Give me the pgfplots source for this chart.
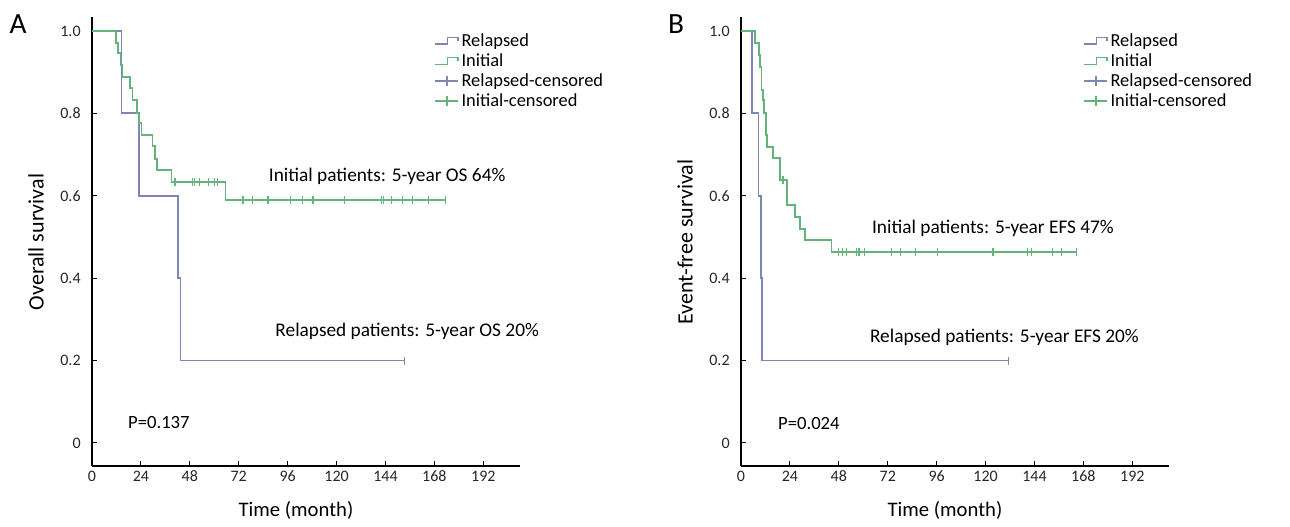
\documentclass[border=0pt]{standalone}
\usepackage{pgfplots}
\pgfplotsset{compat=1.18}
\usepackage{fontspec}
\setmainfont{Carlito}
\definecolor{relcol}{RGB}{125,135,178}
\definecolor{inicol}{RGB}{98,180,122}
\tikzset{ann/.style={anchor=west, font=\fontsize{14.5}{17}\selectfont, inner sep=0pt}}
\pgfplotsset{
  km/.style={
    scale only axis, width=321pt, height=336.75pt,
    xmin=0, xmax=210, ymin=-0.056, ymax=1.034, clip=false,
    axis x line*=bottom, axis y line*=left,
    axis line style={-, line width=0.9pt, black},
    tick style={line width=0.8pt, black},
    tick align=inside, major tick length=4pt,
    xtick={0,24,48,72,96,120,144,168,192},
    ytick={0,0.2,0.4,0.6,0.8,1.0},
    yticklabels={0,0.2,0.4,0.6,0.8,1.0},
    /pgf/number format/assume math mode=true,
    ticklabel style={font=\fontsize{12}{14}\selectfont, text=black!85},
    yticklabel style={xshift=-5pt},
    legend style={at={(0.80,0.97)}, anchor=north west, draw=none, fill=none,
      font=\fontsize{13.8}{16.5}\selectfont, row sep=0pt, inner sep=0pt},
    legend cell align=left,
  },
}
\begin{document}
\begin{tikzpicture}[x=0.75pt,y=0.75pt]
\useasboundingbox (0,0) rectangle (1290,527);
% ---------------- Panel A
\begin{axis}[km, at={(69pt,45.75pt)}, anchor=south west]
\addplot[const plot, relcol, line width=1.35pt, forget plot] coordinates {
(0,1)(14.5,0.8)(23.2,0.6)(42.3,0.4)(43.4,0.2)(153.3,0.2)};
\addplot[only marks, mark=|, relcol, mark size=3pt, mark options={line width=0.9pt}, forget plot] coordinates {(153.3,0.2)};
\addplot[const plot, inicol, line width=1.35pt, forget plot] coordinates {
(0,1)(11.8,0.970)(12.6,0.946)(14.0,0.917)(15.0,0.889)(18.6,0.861)(19.9,0.833)
(21.9,0.800)(23.2,0.777)(24.3,0.748)(29.7,0.720)(30.9,0.690)(32.0,0.663)
(39.0,0.633)(65.5,0.590)(173.4,0.590)};
\addplot[only marks, mark=|, inicol, mark size=3pt, mark options={line width=0.9pt}, forget plot] coordinates {
(40.7,0.633)(49.3,0.633)(50.4,0.633)(52.9,0.633)(57.0,0.633)(60.2,0.633)(61.4,0.633)
(74.1,0.590)(78.7,0.590)(86.4,0.590)(97.3,0.590)(103.2,0.590)(108.4,0.590)(124.0,0.590)
(141.9,0.590)(143.0,0.590)(146.8,0.590)(152.5,0.590)(157.4,0.590)(165.2,0.590)(173.4,0.590)};
\addlegendimage{legend image code/.code={\draw[relcol, line width=1.1pt] (0cm,-0.09cm) -- (0.32cm,-0.09cm) -- (0.32cm,0.09cm) -- (0.6cm,0.09cm) -- (0.6cm,0cm);}}
\addlegendentry{Relapsed}
\addlegendimage{legend image code/.code={\draw[inicol, line width=1.1pt] (0cm,-0.09cm) -- (0.32cm,-0.09cm) -- (0.32cm,0.09cm) -- (0.6cm,0.09cm) -- (0.6cm,0cm);}}
\addlegendentry{Initial}
\addlegendimage{relcol, line width=1.1pt, mark=+, mark size=4pt}\addlegendentry{Relapsed-censored}
\addlegendimage{inicol, line width=1.1pt, mark=+, mark size=4pt}\addlegendentry{Initial-censored}
\node[ann] at (axis cs:86.7,0.647) {Initial patients: 5-year OS 64\%};
\node[ann] at (axis cs:89.9,0.270) {Relapsed patients: 5-year OS 20\%};
\node[ann, font=\fontsize{14}{17}\selectfont] at (axis cs:17.6,0.049) {P=0.137};
\end{axis}
% ---------------- Panel B
\begin{axis}[km, at={(555.75pt,45.75pt)}, anchor=south west]
\addplot[const plot, relcol, line width=1.35pt, forget plot] coordinates {
(0,1)(5.5,0.8)(8.6,0.6)(10.0,0.4)(10.2,0.2)(131.4,0.2)};
\addplot[only marks, mark=|, relcol, mark size=3pt, mark options={line width=0.9pt}, forget plot] coordinates {(131.4,0.2)};
\addplot[const plot, inicol, line width=1.35pt, forget plot] coordinates {
(0,1)(6.9,0.970)(9.0,0.942)(9.3,0.913)(10.1,0.857)(10.9,0.833)(11.4,0.800)
(12.2,0.748)(12.8,0.719)(15.8,0.691)(19.1,0.638)(22.4,0.578)(26.4,0.549)
(28.9,0.519)(31.3,0.493)(44.4,0.464)(164.7,0.464)};
\addplot[only marks, mark=|, inicol, mark size=3pt, mark options={line width=0.9pt}, forget plot] coordinates {
(20.6,0.638)
(48.0,0.464)(49.8,0.464)(51.8,0.464)(56.7,0.464)(57.9,0.464)(60.7,0.464)(73.8,0.464)
(78.4,0.464)(85.7,0.464)(96.6,0.464)(123.6,0.464)(140.7,0.464)(142.4,0.464)
(152.7,0.464)(157.1,0.464)(164.7,0.464)};
\addlegendimage{legend image code/.code={\draw[relcol, line width=1.1pt] (0cm,-0.09cm) -- (0.32cm,-0.09cm) -- (0.32cm,0.09cm) -- (0.6cm,0.09cm) -- (0.6cm,0cm);}}
\addlegendentry{Relapsed}
\addlegendimage{legend image code/.code={\draw[inicol, line width=1.1pt] (0cm,-0.09cm) -- (0.32cm,-0.09cm) -- (0.32cm,0.09cm) -- (0.6cm,0.09cm) -- (0.6cm,0cm);}}
\addlegendentry{Initial}
\addlegendimage{relcol, line width=1.1pt, mark=+, mark size=4pt}\addlegendentry{Relapsed-censored}
\addlegendimage{inicol, line width=1.1pt, mark=+, mark size=4pt}\addlegendentry{Initial-censored}
\node[ann] at (axis cs:64.2,0.522) {Initial patients: 5-year EFS 47\%};
\node[ann] at (axis cs:63.2,0.257) {Relapsed patients: 5-year EFS 20\%};
\node[ann, font=\fontsize{14}{17}\selectfont] at (axis cs:18.1,0.046) {P=0.024};
\end{axis}
% ---------------- labels
\node[font=\fontsize{22}{24}\selectfont] at (18,503) {A};
\node[font=\fontsize{22}{24}\selectfont] at (676,503) {B};
\node[rotate=90, font=\fontsize{16.5}{18}\selectfont] at (36,285) {Overall survival};
\node[rotate=90, font=\fontsize{16.5}{18}\selectfont] at (685,285) {Event-free survival};
\node[font=\fontsize{15.5}{18}\selectfont] at (296,17) {Time (month)};
\node[font=\fontsize{15.5}{18}\selectfont] at (945,17) {Time (month)};
\end{tikzpicture}
\end{document}
